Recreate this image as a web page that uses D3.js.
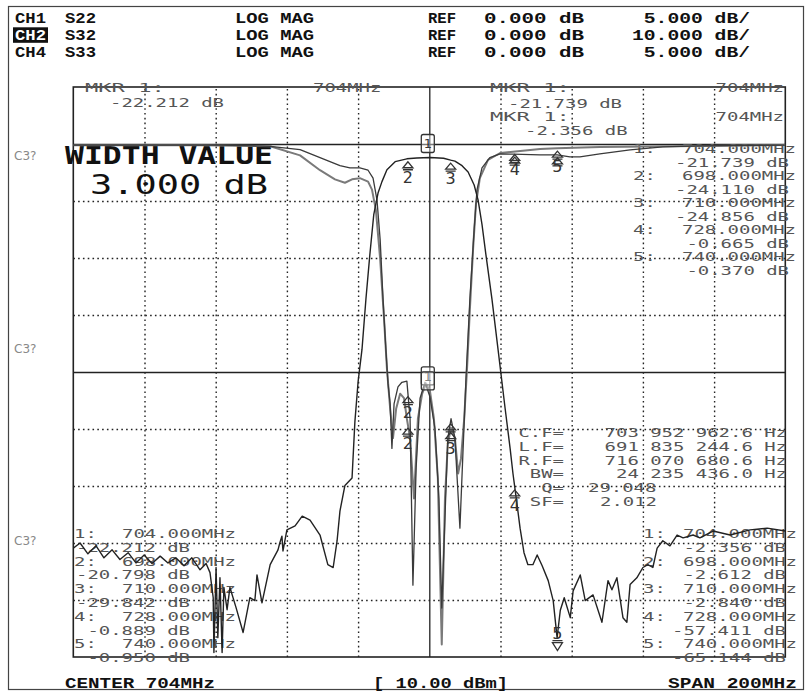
<!DOCTYPE html>
<html>
<head>
<meta charset="utf-8">
<script src="https://cdn.jsdelivr.net/npm/d3@7"></script>
<style>
  body { margin: 0; background: #fff; }
  svg { display: block; }
  .hdr { font-family: "Liberation Mono", monospace; font-weight: bold; font-size: 14.5px; fill: #111; }
  .ann { font-family: "DejaVu Sans Mono", monospace; font-size: 12px; fill: #555; }
  .mk { font-family: "DejaVu Sans", sans-serif; font-size: 16px; fill: #333; }
</style>
</head>
<body>
<svg id="chart" width="810" height="693"></svg>
<script>
// header rows
const channels = ['CH1', 'CH2', 'CH4'];
const params = ['S22', 'S32', 'S33'];
const formats = ['LOG MAG', 'LOG MAG', 'LOG MAG'];
const refValues = ['0.000 dB', '0.000 dB', '0.000 dB'];
const scaleLabels = ['5.000 dB/', '10.000 dB/', '5.000 dB/'];

// marker frequencies (MHz) and readouts (dB)
const mkrFreqs = [704, 698, 710, 728, 740];
const s22Readout = [-22.212, -20.798, -29.842, -0.889, -0.950];
const s32Readout = [-2.356, -2.612, -2.840, -57.411, -65.144];
const s33Readout = [-21.739, -24.110, -24.856, -0.665, -0.370];

// bandwidth search results
const bwLabels = ['C.F=', 'L.F=', 'R.F=', 'BW=', 'Q=', 'SF='];
const bwValues = ['703 952 962.6 Hz', '691 835 244.6 Hz', '716 070 680.6 Hz', '24 235 436.0 Hz', '29.048', '2.012'];

// traces: [MHz, dB]
const s32 = [[604,-70.9],[605.9,-70.0],[608.1,-71.9],[610.4,-70.5],[612.6,-72.6],[614.9,-71.2],[617.1,-72.9],
  [619.4,-71.7],[621.6,-73.5],[623.9,-72.1],[626.1,-73.6],[628.4,-72.3],[630.6,-73.5],[632.8,-72.6],[635.1,-74.0],
  [637.3,-72.6],[639.6,-74.7],[641.3,-73.6],[642.4,-75.2],[643.3,-79.6],[643.5,-89.2],[644.1,-74.3],[644.6,-86.6],
  [645.2,-76.1],[645.8,-89.2],[646.3,-77.8],[647.2,-81.7],[648.0,-77.8],[649.7,-81.3],[651.7,-85.7],[653.6,-79.6],
  [655.0,-80.1],[655.6,-75.6],[657.0,-80.5],[659.3,-73.8],[661.5,-71.2],[662.0,-70.0],[662.6,-68.8],[662.9,-71.4],
  [664.0,-67.7],[666.3,-67.0],[668.3,-65.3],[670.5,-66.0],[673.3,-68.6],[675.5,-73.8],[677.0,-74.3],[678.1,-69.6],
  [678.9,-64.4],[680.3,-59.9],[682.3,-58.6],[683.1,-48.7],[684.0,-41.7],[685.1,-36.0],[686.2,-27.2],[687.3,-19.4],
  [688.4,-12.4],[689.6,-8.6],[690.7,-6.6],[692.1,-4.5],[694.4,-3.1],[697.7,-2.6],[700.5,-2.45],[704.2,-2.36],
  [708.0,-2.5],[710.0,-2.84],[711.2,-3.0],[713.2,-3.8],[714.9,-4.9],[716.6,-7.2],[717.7,-9.8],[718.8,-14.1],
  [719.9,-19.4],[721.6,-27.2],[723.3,-36.0],[725.3,-46.4],[726.7,-53.4],[727.5,-57.8],[728.6,-63.0],[729.5,-67.4],
  [730.6,-71.7],[731.7,-73.8],[733.1,-73.8],[734.3,-72.1],[735.7,-74.0],[737.4,-76.6],[738.8,-80.1],[739.9,-86.6],
  [740.8,-81.8],[741.9,-79.6],[743.6,-83.1],[744.4,-78.4],[746.4,-75.6],[747.8,-80.1],[750.0,-79.1],[752.5,-83.9],
  [754.2,-76.6],[755.3,-78.2],[756.7,-76.1],[758.4,-83.1],[759.5,-83.9],[760.4,-77.3],[762.3,-76.1],[764.0,-74.3],
  [765.4,-73.8],[766.8,-74.3],[768.0,-70.9],[769.6,-69.6],[771.6,-70.5],[773.6,-68.6],[775.3,-69.1],[778.1,-68.6],
  [780.0,-69.1],[783.7,-67.9],[788.5,-68.6],[794.1,-67.7],[798.9,-67.4],[804,-67.9]];

const s22 = [[604,-0.1],[625.6,-0.1],[645.2,-0.1],[659.3,-0.2],[667.7,-0.5],[673.3,-1.2],[678.9,-1.9],[681.7,-2.1],
  [684.5,-2.1],[686.8,-2.3],[688.2,-3.0],[689.3,-4.9],[690.2,-8.4],[691.0,-13.6],[691.8,-18.0],[692.4,-21.0],
  [693.0,-22.8],[693.5,-26.7],[694.1,-22.8],[695.2,-21.3],[696.3,-20.9],[697.7,-20.8],[698.6,-24.1],[699.4,-38.7],
  [700.3,-28.4],[701.4,-22.3],[702.8,-20.9],[704.2,-22.2],[705.6,-25.0],[706.7,-31.1],[707.5,-40.7],[708.4,-32.8],
  [709.2,-25.8],[710.1,-24.1],[711.2,-25.8],[712.6,-33.7],[713.5,-26.7],[714.3,-20.6],[715.4,-13.6],[716.6,-7.5],
  [717.4,-4.0],[718.8,-2.1],[721.0,-1.2],[723.9,-0.87],[727.5,-0.89],[735.1,-0.96],[739.9,-0.95],[743.5,-1.13],
  [746.3,-1.13],[751.9,-0.87],[760.4,-0.52],[769.6,-0.26],[780.0,-0.17],[804,-0.09]];

const s33 = [[604,-0.1],[639.6,-0.1],[659.3,-0.2],[667.7,-1.0],[673.3,-2.3],[677.5,-3.1],[680.3,-3.4],[682.3,-3.1],
  [684.5,-3.0],[686.8,-3.3],[687.9,-4.0],[689.0,-5.8],[690.2,-10.1],[691.3,-15.4],[692.1,-19.7],[693.0,-23.2],
  [693.8,-25.8],[694.7,-23.2],[695.8,-21.9],[696.9,-22.3],[697.7,-24.1],[698.6,-25.8],[699.7,-31.1],[700.8,-24.1],
  [702.0,-21.9],[703.1,-21.0],[704.2,-21.7],[705.3,-24.1],[706.4,-29.3],[707.5,-43.9],[708.4,-31.1],[709.2,-26.3],
  [710.1,-24.9],[711.2,-25.8],[712.1,-28.9],[712.9,-27.6],[713.8,-24.1],[714.6,-19.7],[715.4,-14.5],[716.3,-9.2],
  [717.1,-5.3],[718.2,-3.0],[720.5,-1.4],[723.9,-0.79],[727.5,-0.67],[735.1,-0.44],[739.9,-0.37],[751.9,-0.26],
  [780.0,-0.17],[804,-0.09]];

const svg = d3.select('#chart');
const plot = { left: 73.3, right: 785.3, top: 87, bottom: 657 };

const x = d3.scaleLinear().domain([604, 804]).range([plot.left, plot.right]);
const yS32 = d3.scaleLinear().domain([10, -90]).range([plot.top, plot.bottom]);   // 10 dB/div
const yRefl = d3.scaleLinear().domain([5, -45]).range([plot.top, plot.bottom]);   // 5 dB/div

// outer frame of the screen
svg.append('rect')
  .attr('x', 8.5).attr('y', 6.5).attr('width', 795).attr('height', 683)
  .attr('fill', 'none').attr('stroke', '#444').attr('stroke-width', 1.2);

// header, each text stretched to the width it has on screen
const hdr = svg.append('g').attr('class', 'hdr');
const hText = (tx, ty, s, len, anchor) => hdr.append('text')
  .attr('x', tx).attr('y', ty).attr('text-anchor', anchor || 'start')
  .attr('textLength', len).attr('lengthAdjust', 'spacingAndGlyphs').text(s);

channels.forEach((ch, i) => {
  const by = 23 + i * 16.8;
  if (ch === 'CH2') {
    hdr.append('rect').attr('x', 13).attr('y', by - 12.5).attr('width', 35).attr('height', 15.5).attr('fill', '#111');
  }
  hText(15, by, ch, 31).attr('fill', ch === 'CH2' ? '#fff' : '#111');
  hText(65, by, params[i], 31);
  hText(235, by, formats[i], 79);
  hText(428, by, 'REF', 28);
  hText(484, by, refValues[i], 100);
  hText(750, by, scaleLabels[i], scaleLabels[i].length * 11.8, 'end');
});

// bottom line
hText(65, 688, 'CENTER 704MHz', 150);
hText(373, 688, '[ 10.00 dBm]', 135);
hText(797, 688, 'SPAN 200MHz', 129, 'end');

// C3? flags
[160, 353, 545].forEach(yy => {
  svg.append('text').attr('x', 14).attr('y', yy)
    .style('font-family', 'DejaVu Sans, sans-serif').style('font-size', '12px').attr('fill', '#888').text('C3?');
});

// graticule through the scales
const grid = svg.append('g');
grid.append('g')
  .attr('transform', `translate(0,${plot.bottom})`)
  .call(d3.axisBottom(x).tickValues(d3.range(624, 800, 20)).tickSize(-(plot.bottom - plot.top)).tickFormat(''))
  .call(g => g.select('.domain').remove())
  .selectAll('line')
  .attr('stroke', '#222')
  .attr('stroke-width', d => (d === 704 ? 1.3 : 1.4))
  .attr('stroke-dasharray', d => (d === 704 ? null : '1.6,3.2'));
grid.append('g')
  .attr('transform', `translate(${plot.left},0)`)
  .call(d3.axisLeft(yS32).tickValues(d3.range(0, -90, -10)).tickSize(-(plot.right - plot.left)).tickFormat(''))
  .call(g => g.select('.domain').remove())
  .selectAll('line')
  .attr('stroke', '#222')
  .attr('stroke-width', d => (d === 0 || d === -40 ? 1.5 : 1.4))
  .attr('stroke-dasharray', d => (d === 0 || d === -40 ? null : '1.6,3.2'));

svg.append('rect')
  .attr('x', plot.left).attr('y', plot.top)
  .attr('width', plot.right - plot.left).attr('height', plot.bottom - plot.top)
  .attr('fill', 'none').attr('stroke', '#222').attr('stroke-width', 1.6);

// annotation text, plotter font is wide: about 11.4 px per character
const ann = svg.append('g').attr('class', 'ann');
const addText = (tx, ty, s, anchor) =>
  ann.append('text').attr('x', tx).attr('y', ty).attr('text-anchor', anchor || 'start')
    .attr('textLength', s.length * 11.4).attr('lengthAdjust', 'spacingAndGlyphs').text(s);

addText(85, 92, 'MKR  1:');
addText(313, 92, '704MHz');
addText(110, 107, '-22.212 dB');
addText(490, 92, 'MKR  1:');
addText(784, 92, '704MHz', 'end');
addText(508, 108, '-21.739 dB');
addText(490, 121, 'MKR  1:');
addText(784, 121, '704MHz', 'end');
addText(525, 135, '-2.356 dB');

const fmtF = f => f.toFixed(3) + 'MHz';
const fmtV = v => v.toFixed(3) + ' dB';

// S33 list (upper right)
s33Readout.forEach((v, i) => {
  const by = 153 + i * 27;
  addText(633, by, (i + 1) + ':');
  addText(796, by, fmtF(mkrFreqs[i]), 'end');
  addText(789, by + 13.5, fmtV(v), 'end');
});
// S22 list (lower left)
s22Readout.forEach((v, i) => {
  const by = 538 + i * 27.6;
  addText(74, by, (i + 1) + ':');
  addText(236, by, fmtF(mkrFreqs[i]), 'end');
  addText(190, by + 13.8, fmtV(v), 'end');
});
// S32 list (lower right)
s32Readout.forEach((v, i) => {
  const by = 538 + i * 27.6;
  addText(643, by, (i + 1) + ':');
  addText(797, by, fmtF(mkrFreqs[i]), 'end');
  addText(786, by + 13.8, fmtV(v), 'end');
});
// bandwidth block
bwLabels.forEach((lab, i) => {
  const by = 437 + i * 13.8;
  addText(564, by, lab, 'end');
  if (i < 4) addText(787, by, bwValues[i], 'end');
  else addText(i === 4 ? 588 : 600, by, bwValues[i]);
});

svg.append('text').attr('x', 65).attr('y', 164)
  .attr('textLength', 208).attr('lengthAdjust', 'spacingAndGlyphs')
  .style('font-family', 'DejaVu Sans Mono, monospace').style('font-size', '25px').style('font-weight', 'bold')
  .attr('fill', '#111').text('WIDTH VALUE');
svg.append('text').attr('x', 90).attr('y', 194)
  .attr('textLength', 178).attr('lengthAdjust', 'spacingAndGlyphs')
  .style('font-family', 'DejaVu Sans Mono, monospace').style('font-size', '27px')
  .attr('fill', '#111').text('3.000 dB');

// traces
svg.append('clipPath').attr('id', 'clip').append('rect')
  .attr('x', plot.left).attr('y', plot.top)
  .attr('width', plot.right - plot.left).attr('height', plot.bottom - plot.top);

const traces = [
  { data: s33, y: yRefl, color: '#7a7a7a', width: 2.0 },
  { data: s22, y: yRefl, color: '#3a3a3a', width: 1.3 },
  { data: s32, y: yS32, color: '#222', width: 1.4 }
];
const traceG = svg.append('g').attr('clip-path', 'url(#clip)');
traces.forEach(t => {
  const line = d3.line().x(d => x(d[0])).y(d => t.y(d[1]));
  traceG.append('path').datum(t.data)
    .attr('d', line).attr('fill', 'none')
    .attr('stroke', t.color).attr('stroke-width', t.width).attr('stroke-linejoin', 'round');
});

// markers, placed on the traces; coinciding marker numbers are written once
const mkG = svg.append('g');
const placed = [];
function markText (tx, ty, s, size) {
  if (placed.some(p => p.s === s && Math.abs(p.x - tx) < 5 && Math.abs(p.y - ty) < 14)) return;
  placed.push({ x: tx, y: ty, s });
  mkG.append('text').attr('class', 'mk').attr('x', tx).attr('y', ty)
    .attr('text-anchor', 'middle').style('font-size', size + 'px').text(s);
}
function drawMarkers (t, downIdx) {
  const at = d3.scaleLinear(t.data.map(d => d[0]), t.data.map(d => d[1]));
  mkrFreqs.forEach((f, i) => {
    const px = x(f);
    const py = t.y(at(f));
    if (i === 0) {
      mkG.append('rect').attr('x', px - 8).attr('y', py - 23).attr('width', 13).attr('height', 18)
        .attr('fill', '#fff').attr('fill-opacity', 0.4).attr('stroke', '#333').attr('stroke-width', 1.3).attr('rx', 2);
      markText(px - 1.5, py - 9, '1', 13);
    } else if (i === downIdx) {
      markText(px, py + 4, String(i + 1), 16);
      mkG.append('path')
        .attr('d', `M${px - 5},${py + 6}H${px + 5}M${px - 5},${py + 8}L${px},${py + 16}L${px + 5},${py + 8}Z`)
        .attr('fill', 'none').attr('stroke', '#333').attr('stroke-width', 1.3);
    } else {
      mkG.append('path')
        .attr('d', `M${px},${py + 3}L${px - 5},${py + 9}H${px + 5}Z M${px - 5},${py + 11}H${px + 5}`)
        .attr('fill', 'none').attr('stroke', '#333').attr('stroke-width', 1.3);
      markText(px, py + 24, String(i + 1), 16);
    }
  });
}
drawMarkers(traces[0], -1);
drawMarkers(traces[1], -1);
drawMarkers(traces[2], 4);
</script>
</body>
</html>
